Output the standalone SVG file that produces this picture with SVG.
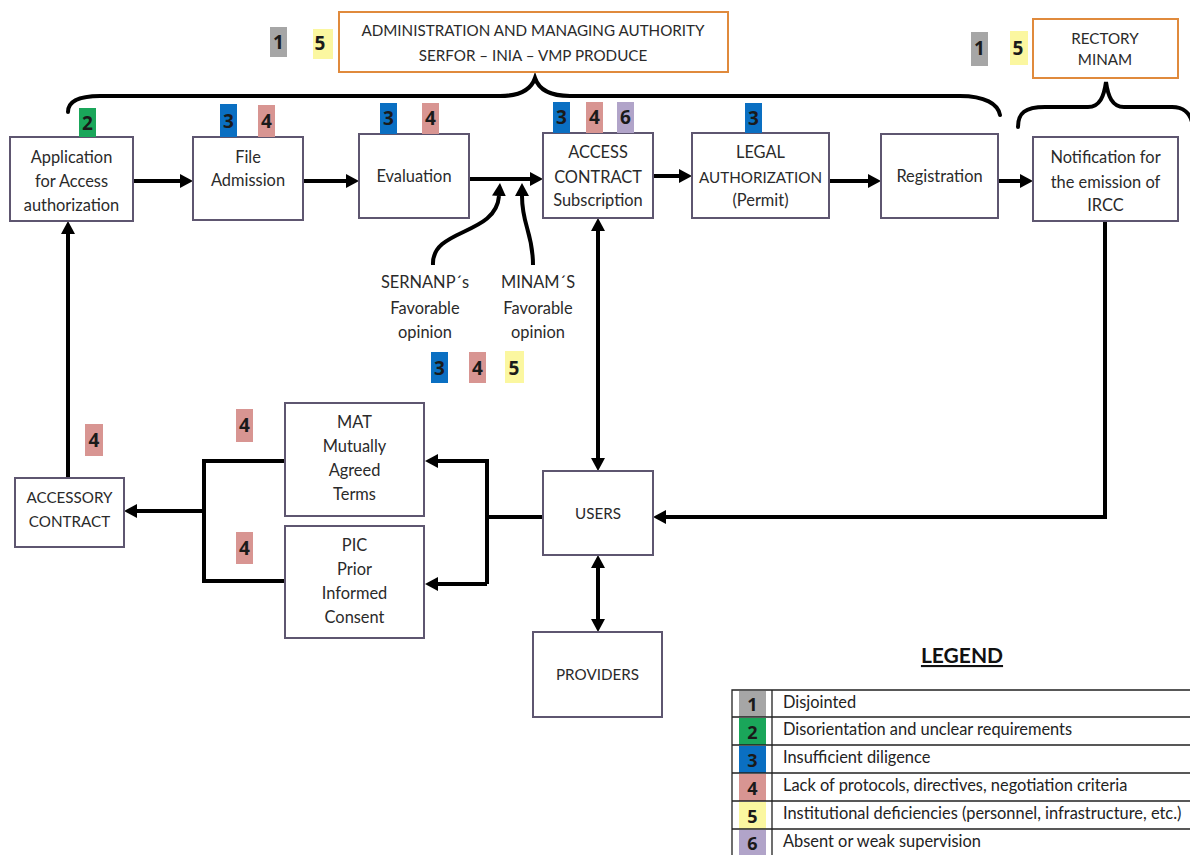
<svg xmlns="http://www.w3.org/2000/svg" width="1190" height="855" viewBox="0 0 1190 855">
<style>
.nb{fill:#fff;stroke:#5e5670;stroke-width:2}
.ob{fill:#fff;stroke:#e08a3c;stroke-width:2}
.t{font-family:Lato,"Open Sans","Liberation Sans",sans-serif;font-size:16.4px;fill:#2a2a2a;text-anchor:middle}
.ht{font-family:Lato,"Open Sans","Liberation Sans",sans-serif;font-size:15.2px;fill:#2a2a2a;text-anchor:middle}
.lt{font-family:Lato,"Open Sans","Liberation Sans",sans-serif;font-size:16.4px;fill:#222}
.d{font-family:"Open Sans","Liberation Sans",sans-serif;font-size:19px;font-weight:bold;fill:#1a1a1a;text-anchor:middle}
.c{fill:none;stroke:#000;stroke-width:4}
.br{fill:none;stroke:#000;stroke-width:4;stroke-linecap:round}
.g{fill:#a6a6a6}.gr{fill:#1aa65a}.b{fill:#0a6fc2}.p{fill:#d89592}.y{fill:#fbf7a0}.v{fill:#b1a4c9}
</style>
<defs>
<marker id="ah" markerUnits="userSpaceOnUse" markerWidth="14" markerHeight="14" refX="0" refY="7" orient="auto-start-reverse">
<path d="M0,0 L13,7 L0,14 z" fill="#000"/>
</marker>
</defs>
<rect width="1190" height="855" fill="#fff"/>

<g id="connectors">
<path class="c" d="M133,181 H180" marker-end="url(#ah)"/>
<path class="c" d="M303,181 H346" marker-end="url(#ah)"/>
<path class="c" d="M469,179 H530" marker-end="url(#ah)"/>
<path class="c" d="M653,176 H679" marker-end="url(#ah)"/>
<path class="c" d="M829,181 H868" marker-end="url(#ah)"/>
<path class="c" d="M998,181 H1020" marker-end="url(#ah)"/>
<path class="c" d="M433,265 C431,228 496,236 499,196" marker-end="url(#ah)"/>
<path class="c" d="M533,265 C533,232 522,226 522,196" marker-end="url(#ah)"/>
<path class="c" d="M598,231 V458" marker-start="url(#ah)" marker-end="url(#ah)"/>
<path class="c" d="M598,568 V619" marker-start="url(#ah)" marker-end="url(#ah)"/>
<path class="c" d="M1105,221 V517 H666" marker-end="url(#ah)"/>
<path class="c" d="M543,517 H487"/>
<path class="c" d="M487,584 V461 H438" marker-end="url(#ah)"/>
<path class="c" d="M487,584 H438" marker-end="url(#ah)"/>
<path class="c" d="M285,461 H204 V581 H285"/>
<path class="c" d="M204,511 H137" marker-end="url(#ah)"/>
<path class="c" d="M68,478 V234" marker-end="url(#ah)"/>
<path class="br" d="M68,112 C68,100 80,96 100,96 L500,96 C520,96 531,90 535,78 C539,90 550,96 570,96 L960,96 C985,96 998,104 1000,115"/>
<path class="br" d="M1018,127 C1018,113 1025,107 1045,107 L1088,107 C1100,107 1104,96 1106,82 C1108,96 1112,107 1124,107 L1172,107 C1184,107 1190,114 1192,122"/>
</g>

<g id="admin">
<rect class="ob" x="339" y="12" width="389" height="60"/>
<text class="ht" x="533" y="36">ADMINISTRATION AND MANAGING AUTHORITY</text>
<text class="ht" x="533" y="61">SERFOR – INIA – VMP PRODUCE</text>
<rect class="g" x="270" y="27" width="17" height="30"/><text class="d" x="278.5" y="49">1</text>
<rect class="y" x="313" y="29" width="20" height="30"/><text class="d" x="320" y="50">5</text>
</g>

<g id="rectory">
<rect class="ob" x="1033" y="19" width="145" height="59"/>
<text class="ht" x="1105" y="44">RECTORY</text>
<text class="ht" x="1105" y="65">MINAM</text>
<rect class="g" x="971" y="32" width="17" height="34"/><text class="d" x="979.5" y="55">1</text>
<rect class="y" x="1010" y="31" width="18" height="34"/><text class="d" x="1018" y="55">5</text>
</g>

<g id="application">
<rect class="nb" x="10" y="137" width="123" height="84"/>
<text class="t" x="71.5" y="163">Application</text>
<text class="t" x="71.5" y="187">for Access</text>
<text class="t" x="71.5" y="211">authorization</text>
<rect class="gr" x="79" y="108" width="17" height="29"/><text class="d" x="87.5" y="130">2</text>
</g>

<g id="file-admission">
<rect class="nb" x="193" y="137" width="110" height="83"/>
<text class="t" x="248" y="163">File</text>
<text class="t" x="248" y="186">Admission</text>
<rect class="b" x="220" y="104" width="17" height="33"/><text class="d" x="228.5" y="128">3</text>
<rect class="p" x="258" y="105" width="17" height="32"/><text class="d" x="266.5" y="128">4</text>
</g>

<g id="evaluation">
<rect class="nb" x="359" y="134" width="110" height="84"/>
<text class="t" x="414" y="182">Evaluation</text>
<rect class="b" x="380" y="103" width="17" height="31"/><text class="d" x="388.5" y="125">3</text>
<rect class="p" x="422" y="103" width="17" height="31"/><text class="d" x="430.5" y="125">4</text>
</g>

<g id="access-contract">
<rect class="nb" x="543" y="133" width="110" height="85"/>
<text class="t" x="598" y="158">ACCESS</text>
<text class="t" x="598" y="183">CONTRACT</text>
<text class="t" x="598" y="206">Subscription</text>
<rect class="b" x="553" y="102" width="17" height="31"/><text class="d" x="561.5" y="124">3</text>
<rect class="p" x="586" y="102" width="17" height="31"/><text class="d" x="594.5" y="124">4</text>
<rect class="v" x="617" y="102" width="17" height="31"/><text class="d" x="625.5" y="124">6</text>
</g>

<g id="legal-authorization">
<rect class="nb" x="692" y="133" width="137" height="85"/>
<text class="t" x="760.5" y="158">LEGAL</text>
<text class="t" x="760.5" y="183" style="font-size:15.2px">AUTHORIZATION</text>
<text class="t" x="760.5" y="206">(Permit)</text>
<rect class="b" x="745" y="103" width="17" height="30"/><text class="d" x="753.5" y="125">3</text>
</g>

<g id="registration">
<rect class="nb" x="881" y="134" width="117" height="84"/>
<text class="t" x="939.5" y="182">Registration</text>
</g>

<g id="notification">
<rect class="nb" x="1033" y="137" width="145" height="84"/>
<text class="t" x="1105.5" y="163">Notification for</text>
<text class="t" x="1105.5" y="188">the emission of</text>
<text class="t" x="1105.5" y="211">IRCC</text>
</g>

<g id="sernanp">
<text class="t" x="425" y="288">SERNANP´s</text>
<text class="t" x="425" y="314">Favorable</text>
<text class="t" x="425" y="338">opinion</text>
</g>

<g id="minam">
<text class="t" x="538" y="288">MINAM´S</text>
<text class="t" x="538" y="314">Favorable</text>
<text class="t" x="538" y="338">opinion</text>
</g>

<g id="opinion-badges">
<rect class="b" x="431" y="352" width="17" height="31"/><text class="d" x="439.5" y="375">3</text>
<rect class="p" x="469" y="352" width="17" height="31"/><text class="d" x="477.5" y="375">4</text>
<rect class="y" x="505" y="351" width="19" height="32"/><text class="d" x="514" y="375">5</text>
</g>

<g id="users">
<rect class="nb" x="543" y="471" width="110" height="84"/>
<text class="ht" x="598" y="519">USERS</text>
</g>

<g id="providers">
<rect class="nb" x="533" y="632" width="129" height="85"/>
<text class="ht" x="597.5" y="680">PROVIDERS</text>
</g>

<g id="mat">
<rect class="nb" x="285" y="403" width="139" height="113"/>
<text class="t" x="354.5" y="428">MAT</text>
<text class="t" x="354.5" y="452">Mutually</text>
<text class="t" x="354.5" y="476">Agreed</text>
<text class="t" x="354.5" y="500">Terms</text>
<rect class="p" x="236" y="409" width="17" height="33"/><text class="d" x="244.5" y="432">4</text>
</g>

<g id="pic">
<rect class="nb" x="285" y="526" width="139" height="112"/>
<text class="t" x="354.5" y="551">PIC</text>
<text class="t" x="354.5" y="575">Prior</text>
<text class="t" x="354.5" y="599">Informed</text>
<text class="t" x="354.5" y="623">Consent</text>
<rect class="p" x="236" y="532" width="17" height="32"/><text class="d" x="244.5" y="555">4</text>
</g>

<g id="accessory-contract">
<rect class="nb" x="15" y="478" width="109" height="69"/>
<text class="ht" x="69.5" y="503">ACCESSORY</text>
<text class="ht" x="69.5" y="527">CONTRACT</text>
<rect class="p" x="85" y="424" width="18" height="32"/><text class="d" x="94" y="447">4</text>
</g>

<g id="legend">
<text x="962" y="663" font-family="Lato,'Open Sans','Liberation Sans',sans-serif" font-size="21" font-weight="bold" fill="#111" text-anchor="middle" text-decoration="underline">LEGEND</text>
<rect class="g" x="739" y="691" width="27" height="26"/>
<rect class="gr" x="739" y="718" width="27" height="27"/>
<rect class="b" x="739" y="746" width="27" height="27"/>
<rect class="p" x="739" y="774" width="27" height="27"/>
<rect class="y" x="739" y="802" width="27" height="27"/>
<rect class="v" x="739" y="830" width="27" height="25"/>
<g fill="none" stroke="#222" stroke-width="1.3">
<path d="M732,855 V690 H1190 M772,690 V855 M732,717 H1190 M732,745 H1190 M732,773 H1190 M732,801 H1190 M732,829 H1190"/>
</g>
<g font-family="'Open Sans','Liberation Sans',sans-serif" font-size="18" font-weight="bold" fill="#1a1a1a" text-anchor="middle">
<text x="752.5" y="711">1</text><text x="752.5" y="739">2</text><text x="752.5" y="767">3</text>
<text x="752.5" y="795">4</text><text x="752.5" y="823">5</text><text x="752.5" y="850">6</text>
</g>
<text class="lt" x="783" y="708">Disjointed</text>
<text class="lt" x="783" y="735">Disorientation and unclear requirements</text>
<text class="lt" x="783" y="763">Insufficient diligence</text>
<text class="lt" x="783" y="791">Lack of protocols, directives, negotiation criteria</text>
<text class="lt" x="783" y="819">Institutional deficiencies (personnel, infrastructure, etc.)</text>
<text class="lt" x="783" y="847">Absent or weak supervision</text>
</g>
</svg>
